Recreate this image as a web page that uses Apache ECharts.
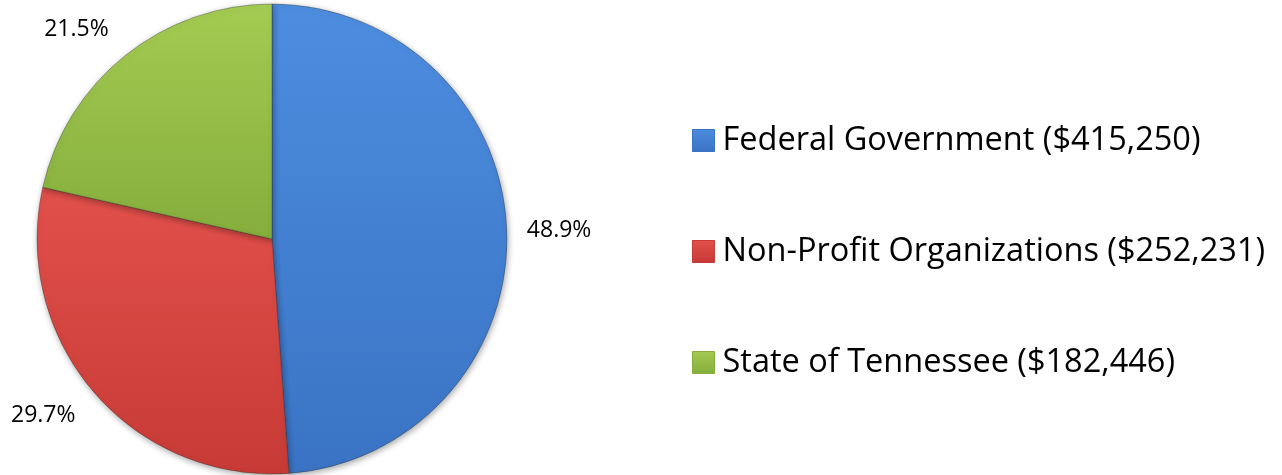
<!DOCTYPE html>
<html>
<head>
<meta charset="utf-8">
<script src="https://cdn.jsdelivr.net/npm/echarts@6/dist/echarts.min.js"></script>
<style>
  html, body { margin: 0; padding: 0; background: #ffffff; }
  #chart { width: 1282px; height: 475px; }
</style>
</head>
<body>
<div id="chart"></div>
<script>
// Funding sources (dollars)
const sources = ['Federal Government', 'Non-Profit Organizations', 'State of Tennessee'];
const amounts = [415250, 252231, 182446];

// Slice colours: light top tone, dark bottom tone
const lightTones = ['#4d8ddf', '#e2504b', '#a4cc52'];
const darkTones = ['#3a73c4', '#c73a36', '#84ad3c'];

// Per-slice placement of the percentage labels (label line is hidden)
const labelReach = [15, 36, 33];
const labelShift = [0, -14, -9];

const total = amounts.reduce((a, b) => a + b, 0);

function toneGradient(i) {
  return new echarts.graphic.LinearGradient(0, 0, 0, 1, [
    { offset: 0, color: lightTones[i] },
    { offset: 1, color: darkTones[i] }
  ]);
}

const legendName = (name) => {
  const i = sources.indexOf(name);
  return name + ' ($' + amounts[i].toLocaleString('en-US') + ')';
};

const chart = echarts.init(document.getElementById('chart'), null, { renderer: 'canvas' });

chart.setOption({
  backgroundColor: '#ffffff',
  animation: false,
  legend: {
    orient: 'vertical',
    left: 687,
    top: 119,
    itemWidth: 22,
    itemHeight: 22,
    itemGap: 78,
    icon: 'rect',
    formatter: legendName,
    textStyle: {
      fontFamily: 'Open Sans',
      fontSize: 32.5,
      color: '#000000',
      padding: [0, 0, 0, 3]
    },
    data: sources.map((name, i) => ({
      name: name,
      itemStyle: { color: toneGradient(i), borderColor: darkTones[i], borderWidth: 1 }
    }))
  },
  series: [{
    type: 'pie',
    center: [272, 239],
    radius: [0, 235],
    startAngle: 90,
    clockwise: true,
    avoidLabelOverlap: false,
    label: {
      show: true,
      position: 'outside',
      fontFamily: 'Open Sans',
      fontSize: 23,
      color: '#000000',
      formatter: (p) => (p.value / total * 100).toFixed(1) + '%'
    },
    labelLine: { show: false },
    itemStyle: {
      borderColor: 'rgba(40,40,40,0.35)',
      borderWidth: 1,
      shadowBlur: 6,
      shadowOffsetX: 1,
      shadowOffsetY: 2,
      shadowColor: 'rgba(0,0,0,0.35)'
    },
    emphasis: { disabled: true },
    data: sources.map((name, i) => ({
      name: name,
      value: amounts[i],
      itemStyle: { color: toneGradient(i) },
      labelLine: { show: false, length: labelReach[i], length2: labelShift[i] }
    }))
  }]
});
</script>
</body>
</html>
